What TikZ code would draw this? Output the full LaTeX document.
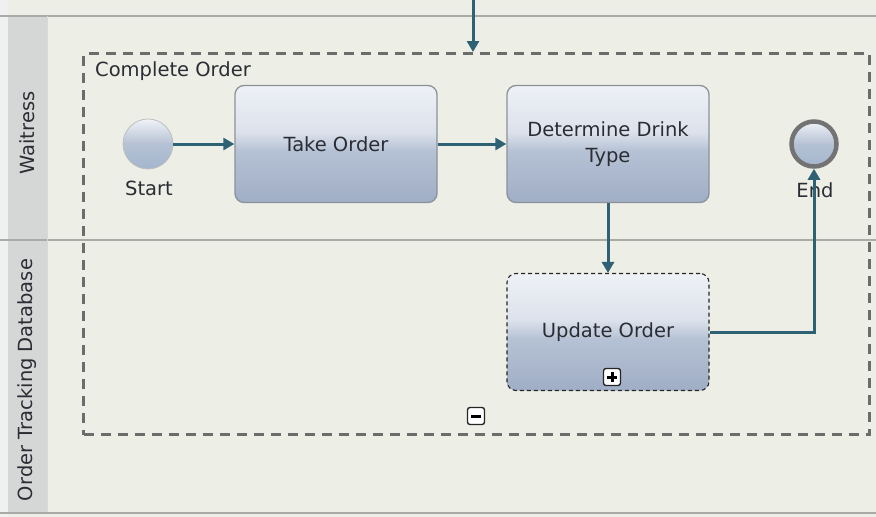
\documentclass[tikz,border=0pt]{standalone}
\usepackage{fontspec}
\setmainfont{DejaVu Sans}
\usetikzlibrary{arrows.meta}
\definecolor{bg}{HTML}{EDEFE6}
\definecolor{hdr}{HTML}{D5D6D6}
\definecolor{laneline}{HTML}{A9ABA6}
\definecolor{txt}{HTML}{2A2D34}
\definecolor{flowc}{HTML}{2F6175}
\definecolor{taskborder}{HTML}{8C919B}
\definecolor{grpc}{HTML}{6A6D6C}
\definecolor{tt}{HTML}{EEF1F6}
\definecolor{tm}{HTML}{DCE2EC}
\definecolor{tl}{HTML}{B5C1D4}
\definecolor{tb}{HTML}{A0AEC6}
\definecolor{ct}{HTML}{F0F3F7}
\definecolor{cb}{HTML}{A3B6CE}
\pgfdeclareverticalshading{taskshade}{100bp}{color(0bp)=(tb); color(25bp)=(tb); color(47bp)=(tl); color(55bp)=(tm); color(75bp)=(tt); color(100bp)=(tt)}
\pgfdeclareverticalshading{evshade}{100bp}{color(0bp)=(cb); color(25bp)=(cb); color(50bp)=(tl); color(75bp)=(ct); color(100bp)=(ct)}
\begin{document}
\begin{tikzpicture}[x=1pt,y=-1pt,
  font=\fontsize{19.5}{24}\selectfont,
  task/.style={draw=taskborder, line width=1.3pt, rounded corners=9pt, shading=taskshade,
    minimum width=202pt, minimum height=117pt, text=txt, align=center, inner sep=0pt},
  subtask/.style={task, draw=black!85, line width=1.1pt, dash pattern=on 4pt off 3pt},
  event/.style={circle, draw=black!25, line width=0.8pt, shading=evshade, minimum size=50pt, inner sep=0pt},
  endevent/.style={circle, draw=black!55, line width=4.5pt, shading=evshade, minimum size=45pt, inner sep=0pt},
  lbl/.style={text=txt, inner sep=0pt},
  lanelbl/.style={text=txt, rotate=90, inner sep=0pt},
  flow/.style={draw=flowc, line width=3pt, -{Triangle[length=11pt,width=12pt]}},
  group/.style={draw=grpc, line width=3pt, dash pattern=on 10pt off 7pt, minimum width=786pt, minimum height=381pt, anchor=north west, inner sep=0pt},
  icon/.style={draw=black!85, fill=white, line width=1.4pt, rounded corners=2.5pt, minimum size=17pt, inner sep=0pt}
]
\useasboundingbox (0,0) rectangle (876,517);
% background
\fill[bg] (0,0) rectangle (876,517);
\fill[black!6] (0,0) rectangle (8,517);
\fill[hdr] (8,16) rectangle (47,512);
\draw[laneline, line width=2pt] (0,16) -- (876,16);
\draw[laneline, line width=2pt] (0,240) -- (876,240);
\draw[laneline, line width=2pt] (0,513) -- (876,513);
\draw[black!15, line width=1pt] (47,16) -- (47,512);
% lane labels
\node[lanelbl] (lane1) at (27,133) {Waitress};
\node[lanelbl] (lane2) at (27,380) {Order Tracking Database};
% group
\node[group] (grp) at (82,52) {};
\node[lbl, anchor=west] (grplbl) at (95,71) {Complete Order};
% nodes
\node[event] (start) at (148,144) {};
\node[lbl] (startlbl) at (149,188) {Start};
\node[task] (take) at (336,144) {Take Order};
\node[task] (det) at (608,144) {Determine Drink\\[2pt]Type};
\node[endevent] (endev) at (814,144) {};
\node[lbl] (endlbl) at (815,190) {End};
\node[subtask] (upd) at (608,332) {\raisebox{3pt}{Update Order}};
\node[icon, path picture={\draw[black, line width=3pt] ([xshift=-5pt]path picture bounding box.center) -- ([xshift=5pt]path picture bounding box.center);
  \draw[black, line width=3pt] ([yshift=-5pt]path picture bounding box.center) -- ([yshift=5pt]path picture bounding box.center);}] (plus) at (612,377) {};
\node[icon, path picture={\draw[black, line width=3pt] ([xshift=-5pt]path picture bounding box.center) -- ([xshift=5pt]path picture bounding box.center);}] (minus) at (476,416) {};
% connectors
\coordinate (topin) at (473,0);
\draw[flow] (topin) -- (topin |- grp.north);
\draw[flow] (start) -- (take);
\draw[flow] (take) -- (det);
\draw[flow] (det) -- (upd);
\draw[flow] (upd.east) -| (endev.south);
\end{tikzpicture}
\end{document}
